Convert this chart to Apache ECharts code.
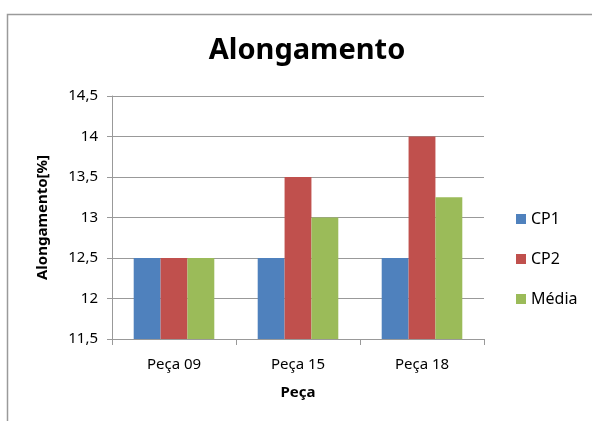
<!DOCTYPE html>
<html>
<head>
<meta charset="utf-8">
<script src="https://cdn.jsdelivr.net/npm/echarts@6/dist/echarts.min.js"></script>
<style>
  html, body { margin: 0; padding: 0; background: #fff; }
  #chart { width: 592px; height: 421px; }
</style>
</head>
<body>
<div id="chart"></div>
<script>
// Elongation per part, for two specimens and their mean
const categories = ['Peça 09', 'Peça 15', 'Peça 18'];
const cp1 = [12.5, 12.5, 12.5];
const cp2 = [12.5, 13.5, 14];
const media = [12.5, 13, 13.25];
const seriesNames = ['CP1', 'CP2', 'Média'];
const colors = ['#4F81BD', '#C0504D', '#9BBB59'];

const font = '"Noto Sans", "Open Sans", sans-serif';
const chart = echarts.init(document.getElementById('chart'), null, { renderer: 'canvas' });

const fmt = v => String(v).replace('.', ',');

chart.setOption({
  animation: false,
  backgroundColor: '#fff',
  color: colors,
  title: {
    text: 'Alongamento',
    left: 302, top: 31, textAlign: 'center',
    textStyle: { fontFamily: font, fontSize: 29, fontWeight: 'bold', color: '#000' }
  },
  graphic: [{
    type: 'rect',
    shape: { x: 7.5, y: 14.5, width: 600, height: 420 },
    style: { fill: 'none', stroke: '#9a9a9a', lineWidth: 1.5 },
    silent: true
  }],
  legend: {
    orient: 'vertical',
    left: 511, top: 206,
    itemWidth: 10, itemHeight: 10, itemGap: 24,
    icon: 'rect',
    textStyle: { fontFamily: font, fontSize: 16, color: '#000' },
    data: seriesNames
  },
  grid: { left: 112, right: 108, top: 96, bottom: 82 },
  xAxis: {
    type: 'category',
    data: categories,
    name: 'Peça',
    nameLocation: 'middle',
    nameGap: 46,
    nameTextStyle: { fontFamily: font, fontSize: 15, fontWeight: 'bold', color: '#000' },
    axisLine: { lineStyle: { color: '#999' } },
    axisTick: { show: true, length: 6, lineStyle: { color: '#999' } },
    axisLabel: { fontFamily: font, fontSize: 15, color: '#000', margin: 18 }
  },
  yAxis: {
    type: 'value',
    min: 11.5, max: 14.5, interval: 0.5,
    name: 'Alongamento[%]',
    nameLocation: 'middle',
    nameGap: 62,
    nameTextStyle: { fontFamily: font, fontSize: 15, fontWeight: 'bold', color: '#000' },
    axisLine: { show: true, lineStyle: { color: '#999' } },
    axisTick: { show: true, length: 5, inside: false, lineStyle: { color: '#999' } },
    splitLine: { lineStyle: { color: '#999' } },
    axisLabel: { fontFamily: font, fontSize: 15, color: '#000', margin: 14, formatter: fmt }
  },
  series: [cp1, cp2, media].map((d, i) => ({
    name: seriesNames[i],
    type: 'bar',
    data: d,
    barGap: '0%',
    barCategoryGap: '35%'
  }))
});
</script>
</body>
</html>
